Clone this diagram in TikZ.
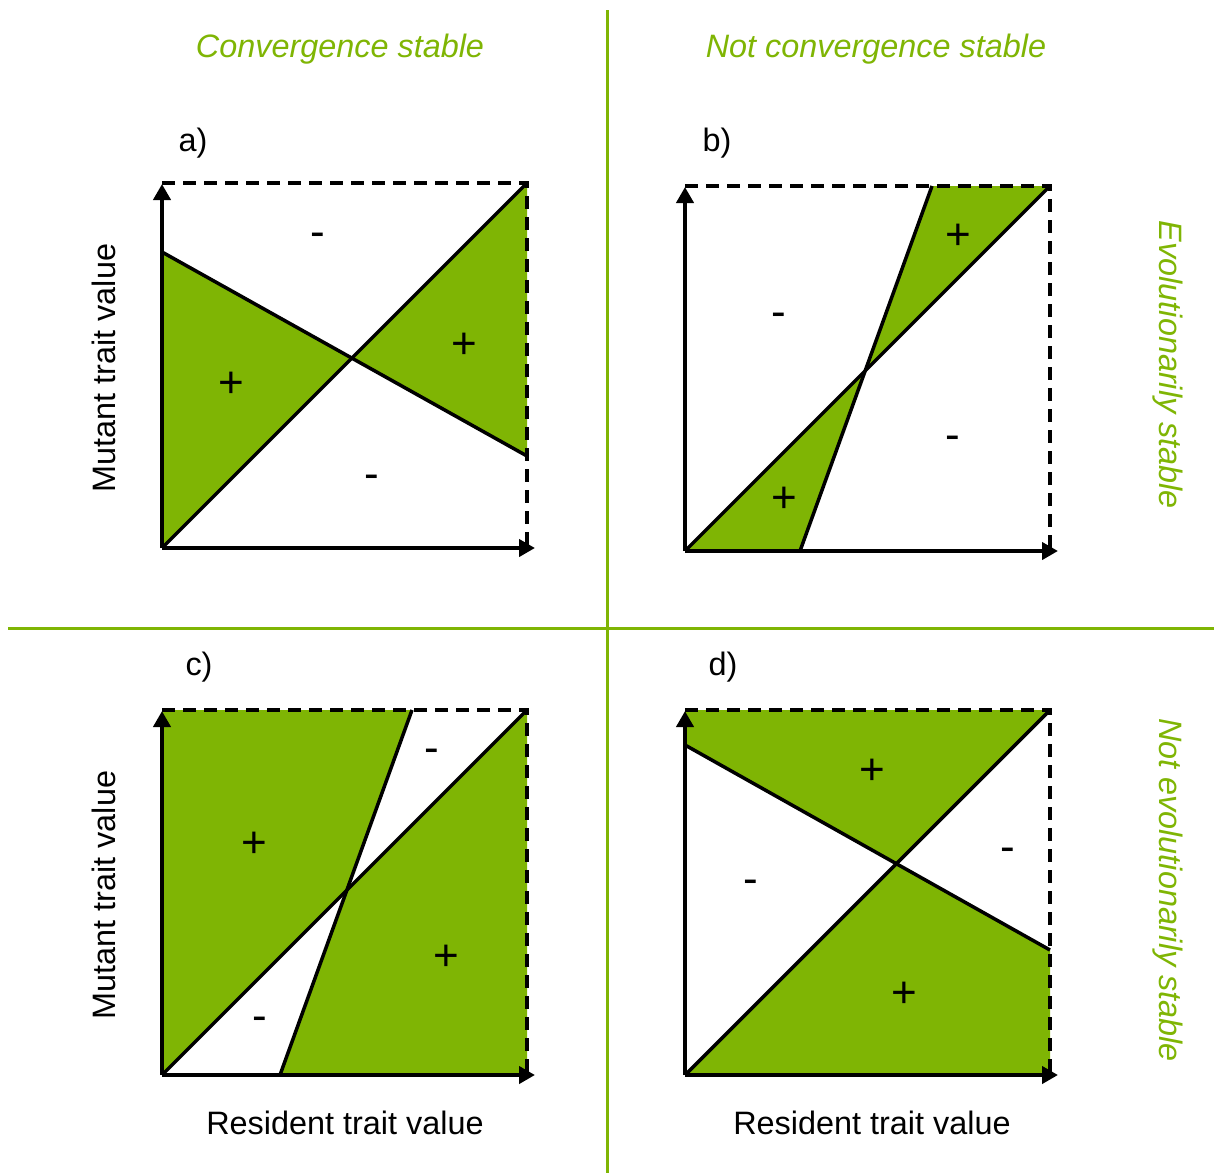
\documentclass[tikz,border=0pt]{standalone}
\usepackage{fontspec}
\setmainfont{Liberation Sans}
\usetikzlibrary{arrows.meta}
\definecolor{leafgreen}{RGB}{127,181,4}
\begin{document}
\begin{tikzpicture}
[x=1pt,y=-1pt,
 axisdecorate/.style={line width=4pt,-{Triangle[length=16pt,width=17pt]}},
 framedecorate/.style={line width=3.5pt,dash pattern=on 13pt off 8pt},
 linedecorate/.style={line width=3.5pt},
 regiondecorate/.style={fill=leafgreen},
 signdecorate/.style={font=\fontsize{44}{50}\selectfont},
 headdecorate/.style={text=leafgreen,font=\fontsize{32.4}{38}\selectfont\itshape},
 labeldecorate/.style={font=\fontsize{32.4}{38}\selectfont},
 dividerdecorate/.style={draw=leafgreen,line width=3pt}]
\useasboundingbox (0,0) rectangle (1214,1173);
%% corners of the four panels
\foreach \p/\x/\y in {a/162/548, b/685/551, c/162/1075, d/685/1075}
{
  \coordinate (\p O) at (\x,\y);
  \coordinate (\p T) at (\x,\y-365);
  \coordinate (\p C) at (\x+365,\y-365);
  \coordinate (\p R) at (\x+365,\y);
}
%% end points of the second lines
\coordinate (aL) at (162,252);  \coordinate (aM) at (527,456);
\coordinate (bS) at (800,551);  \coordinate (bU) at (932,186);
\coordinate (cS) at (280,1075); \coordinate (cU) at (412,710);
\coordinate (dL) at (685,745);  \coordinate (dM) at (1050,950);
\coordinate (aX) at (intersection of aO--aC and aL--aM);
\coordinate (bX) at (intersection of bO--bC and bS--bU);
\coordinate (cX) at (intersection of cO--cC and cS--cU);
\coordinate (dX) at (intersection of dO--dC and dL--dM);
%% green regions
\fill[regiondecorate] (aO) -- (aL) -- (aX) -- cycle;
\fill[regiondecorate] (aX) -- (aC) -- (aM) -- cycle;
\fill[regiondecorate] (bO) -- (bS) -- (bX) -- cycle;
\fill[regiondecorate] (bX) -- (bU) -- (bC) -- cycle;
\fill[regiondecorate] (cO) -- (cX) -- (cU) -- (cT) -- cycle;
\fill[regiondecorate] (cS) -- (cR) -- (cC) -- (cX) -- cycle;
\fill[regiondecorate] (dL) -- (dT) -- (dC) -- (dX) -- cycle;
\fill[regiondecorate] (dO) -- (dX) -- (dM) -- (dR) -- cycle;
%% frames, lines and axes
\foreach \p in {a,b,c,d}
{
  \draw[framedecorate] (\p T) -- (\p C) -- (\p R);
  \draw[linedecorate] (\p O) -- (\p C);
  \draw[axisdecorate] (\p O) -- ([yshift=-1pt]\p T);
  \draw[axisdecorate] (\p O) -- ([xshift=8pt]\p R);
}
\draw[linedecorate] (aL) -- (aM);
\draw[linedecorate] (bS) -- (bU);
\draw[linedecorate] (cS) -- (cU);
\draw[linedecorate] (dL) -- (dM);
%% signs
\foreach \signname/\x/\y/\sign in {aminusup/318/240/-, aplusright/464/346/+,
 aplusleft/231/385/+, aminusdown/372/482/-,
 bplusup/958/237/+, bminusleft/779/320/-, bminusright/953/443/-, bplusdown/784/500/+,
 cplusleft/254/845/+, cminusup/432/756/-, cplusright/446/958/+, cminusdown/260/1024/-,
 dplusup/872/772/+, dminusright/1008/855/-, dminusleft/751/887/-, dplusdown/904/995/+}
{
  \node (\signname) at (\x,\y) [signdecorate] {\sign};
}
%% panel letters and axis labels
\node (alabel) at (193,143) [labeldecorate] {a)};
\node (blabel) at (717,143) [labeldecorate] {b)};
\node (clabel) at (199,667) [labeldecorate] {c)};
\node (dlabel) at (723,667) [labeldecorate] {d)};
\node (amutant) at (104,368) [labeldecorate,rotate=90] {Mutant trait value};
\node (cmutant) at (104,895) [labeldecorate,rotate=90] {Mutant trait value};
\node (cresident) at (345,1123) [labeldecorate] {Resident trait value};
\node (dresident) at (872,1123) [labeldecorate] {Resident trait value};
%% headings
\node (convhead) at (340,49) [headdecorate] {Convergence stable};
\node (notconvhead) at (876,49) [headdecorate] {Not convergence stable};
\node (evohead) at (1168,365) [headdecorate,rotate=-90] {Evolutionarily stable};
\node (notevohead) at (1168,890) [headdecorate,rotate=-90] {Not evolutionarily stable};
%% dividers
\coordinate (vtop) at (607,10);  \coordinate (vbottom) at (607,1173);
\coordinate (hleft) at (8,628);  \coordinate (hright) at (1214,628);
\draw[dividerdecorate] (vtop) -- (vbottom);
\draw[dividerdecorate] (hleft) -- (hright);
\end{tikzpicture}
\end{document}
